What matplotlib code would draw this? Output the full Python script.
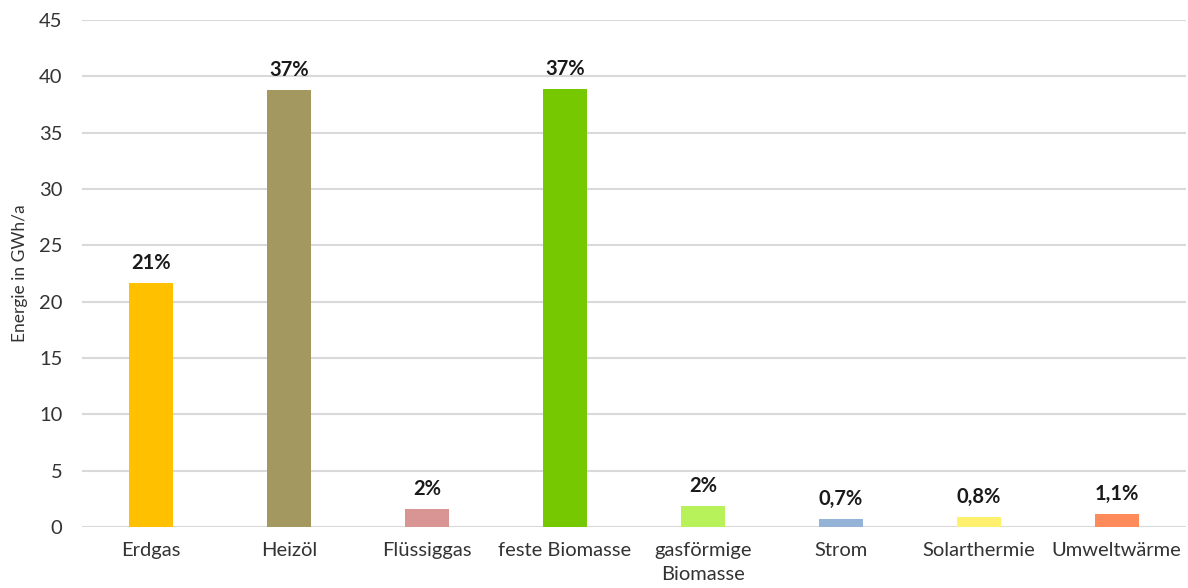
import matplotlib.pyplot as plt
import numpy as np

plt.rcParams['font.family'] = ['Lato', 'DejaVu Sans']

categories = ['Erdgas', 'Heizöl', 'Flüssiggas', 'feste Biomasse', 'gasförmige\nBiomasse',
              'Strom', 'Solarthermie', 'Umweltwärme']
values = [21.65, 38.8, 1.6, 38.9, 1.85, 0.7, 0.9, 1.15]
shares = ['21%', '37%', '2%', '37%', '2%', '0,7%', '0,8%', '1,1%']
colors = ['#FFC000', '#A39860', '#D99594', '#76C800', '#B7F25A', '#95B3D7', '#FFF06D', '#FF8A5A']

fig = plt.figure(figsize=(11.88, 5.88), dpi=100)
ax = fig.add_axes([0.069, 0.1037, 0.929, 0.8623])

x = np.arange(len(categories))
bars = ax.bar(x, values, width=0.32, color=colors, zorder=3)

for b, s in zip(bars, shares):
    ax.annotate(s, (b.get_x() + b.get_width() / 2, b.get_height()),
                xytext=(0, 7), textcoords='offset points',
                ha='center', va='bottom', fontsize=14.5, fontweight='bold', color='#1a1a1a')

ax.set_xlim(-0.5, len(categories) - 0.5)
ax.set_ylim(0, 45)
ax.set_yticks(np.arange(0, 46, 5))
ax.set_xticks(x)
ax.set_xticklabels(categories, fontsize=14.5, color='#333333', linespacing=1.45)
ax.tick_params(axis='y', labelsize=14.5, colors='#333333', length=0, pad=14)
ax.tick_params(axis='x', length=0, pad=11)
ax.grid(axis='y', color='#D9D9D9', linewidth=1.5, zorder=0)
for sp in ax.spines.values():
    sp.set_visible(False)
ax.set_ylabel('Energie in GWh/a', fontsize=12.5, color='#333333', labelpad=8)

fig.savefig('out.png', dpi=100)
